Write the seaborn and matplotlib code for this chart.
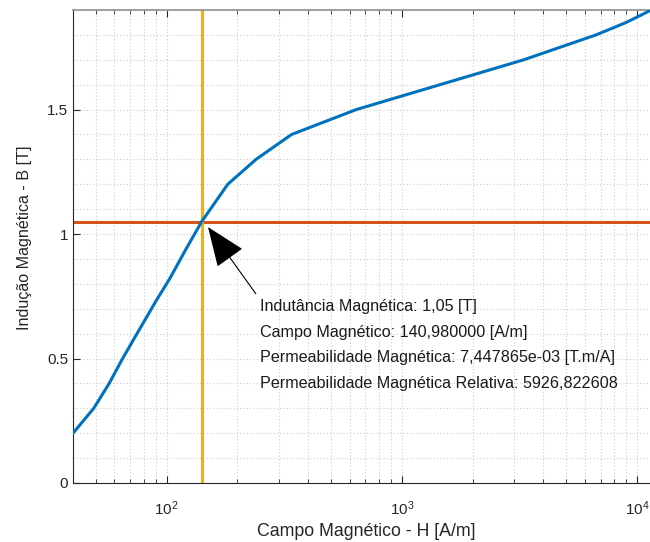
import matplotlib
matplotlib.use("Agg")
import matplotlib.pyplot as plt
import seaborn as sns
import pandas as pd
import numpy as np
from matplotlib.ticker import MultipleLocator, LogLocator, NullFormatter

# ---- data ----
H = [40, 49, 57, 65, 77, 90, 103, 121, 141, 182, 240, 340, 640, 3300, 6700, 9000, 11500, 12700]
B = [0.20, 0.30, 0.40, 0.50, 0.62, 0.73, 0.82, 0.94, 1.05, 1.20, 1.30, 1.40, 1.50, 1.70, 1.80, 1.85, 1.90, 1.92]
H_op = 140.98
B_op = 1.05
annot_lines = [
    "Indutância Magnética: 1,05 [T]",
    "Campo Magnético: 140,980000 [A/m]",
    "Permeabilidade Magnética: 7,447865e-03 [T.m/A]",
    "Permeabilidade Magnética Relativa: 5926,822608",
]
xlabel = "Campo Magnético - H [A/m]"
ylabel = "Indução Magnética - B [T]"

sns.set_theme(style="ticks")
plt.rcParams['font.family'] = ['Liberation Sans', 'DejaVu Sans']
plt.rcParams['mathtext.fontset'] = 'custom'
plt.rcParams['mathtext.rm'] = 'Liberation Sans'
plt.rcParams['mathtext.it'] = 'Liberation Sans:italic'
plt.rcParams['mathtext.default'] = 'regular'

W, Hh = 650, 542
fig = plt.figure(figsize=(6.5, 5.42), dpi=100)
ax = fig.add_axes([73/W, 59/Hh, (661-73)/W, (483-10)/Hh])

df = pd.DataFrame({"H": H, "B": B})
sns.lineplot(data=df, x="H", y="B", ax=ax, color="#0072BD", lw=2.2, zorder=3)
ax.axhline(B_op, color="#D95319", lw=2.2, zorder=2)
ax.axvline(H_op, color="#EDB120", lw=2.2, zorder=2)

ax.set_xscale("log")
ax.set_xlim(40, 12650)
ax.set_ylim(0, 1.9)
ax.yaxis.set_major_locator(MultipleLocator(0.5))
ax.yaxis.set_minor_locator(MultipleLocator(0.1))
ax.yaxis.set_major_formatter(matplotlib.ticker.FuncFormatter(lambda v, p: f"{v:g}"))
ax.xaxis.set_major_locator(LogLocator(base=10, numticks=10))
ax.xaxis.set_minor_locator(LogLocator(base=10, subs=np.arange(2, 10), numticks=20))
ax.xaxis.set_minor_formatter(NullFormatter())

gc = "#cccccc"
ax.grid(True, which="major", color=gc, ls=(0, (1, 2)), lw=0.8)
ax.grid(True, which="minor", color=gc, ls=(0, (1, 2)), lw=0.8)
ax.set_axisbelow(True)

tc = "#262626"
for s in ["left", "bottom"]:
    ax.spines[s].set_color(tc)
    ax.spines[s].set_linewidth(0.8)
ax.spines["top"].set_color("#909090")
ax.spines["top"].set_linewidth(1.2)
ax.spines["right"].set_visible(False)
ax.tick_params(axis="both", which="both", direction="in", colors=tc, labelsize=11,
               top=True, right=False, labelcolor=tc)
ax.tick_params(axis="y", which="minor", left=False)
ax.tick_params(which="major", length=5, width=0.8)
ax.tick_params(which="minor", length=3, width=0.6)
ax.tick_params(axis="x", which="major", pad=12)

ax.set_xlabel(xlabel, fontsize=12.8, color=tc, ha="center", va="center")
ax.xaxis.set_label_coords(366.7/W, 1 - 531.5/Hh, transform=fig.transFigure)
ax.set_ylabel(ylabel, fontsize=11.6, color=tc, ha="center", va="center")
ax.yaxis.set_label_coords(25/W, 1 - 238/Hh, transform=fig.transFigure)

ax.annotate("\n".join(annot_lines), xy=(150, 1.028), xycoords="data",
            xytext=(249, 0.738), textcoords="data", ha="left", va="top",
            fontsize=11.6, color="#1a1a1a", linespacing=1.88,
            arrowprops=dict(arrowstyle="-|>,head_length=1.5,head_width=0.6",
                            mutation_scale=17, color="black", lw=0.8,
                            relpos=(0, 1), shrinkA=2, shrinkB=0))

fig.savefig("out.png", dpi=100)
